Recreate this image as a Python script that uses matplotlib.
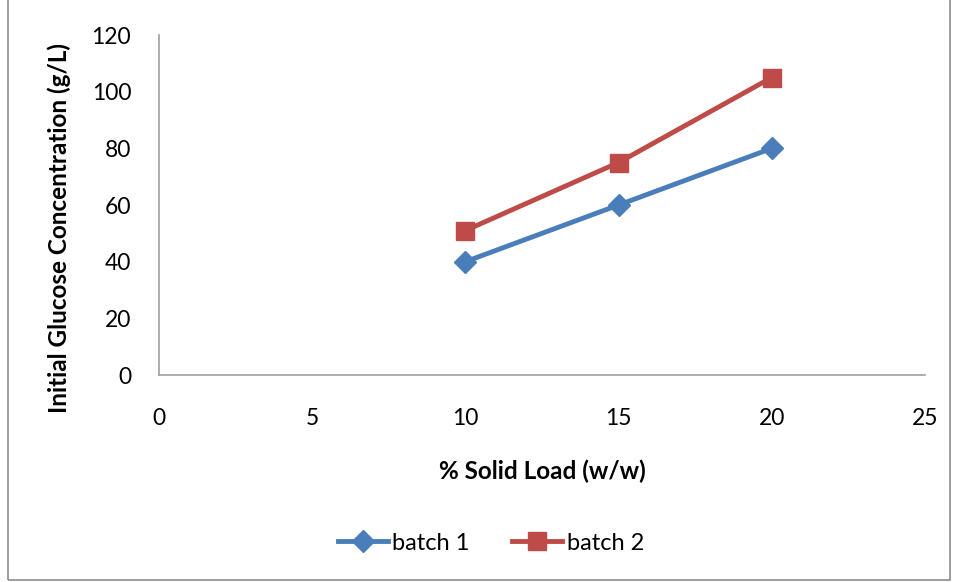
import matplotlib
matplotlib.use('Agg')
import matplotlib.pyplot as plt
from matplotlib.patches import Rectangle

# data
solid_load = [10, 15, 20]
batch1 = [40, 60, 80]
batch2 = [51, 75, 105]

plt.rcParams['font.family'] = ['Lato', 'DejaVu Sans']

fig = plt.figure(figsize=(9.6, 5.82), dpi=100)
ax = fig.add_axes([159/960, 1 - 375/582, (925 - 159)/960, (375 - 35)/582])

ax.plot(solid_load, batch1, color='#4A7EBB', lw=3.5, marker='D', ms=11.5,
        label='batch 1')
ax.plot(solid_load, batch2, color='#BE4B48', lw=3.5, marker='s', ms=13,
        label='batch 2')

ax.set_xlim(0, 25)
ax.set_ylim(0, 120)
ax.set_xticks(range(0, 26, 5))
ax.set_yticks(range(0, 121, 20))
ax.tick_params(length=0, labelsize=16.5)
ax.tick_params(axis='y', pad=20)
ax.tick_params(axis='x', pad=24)

for s in ['top', 'right']:
    ax.spines[s].set_visible(False)
for s in ['left', 'bottom']:
    ax.spines[s].set_color('#A0A0A0')
    ax.spines[s].set_linewidth(1.2)

ax.set_xlabel('% Solid Load (w/w)', fontsize=17.5, fontweight='bold', labelpad=22)
ax.set_ylabel('Initial Glucose Concentration (g/L)', fontsize=17.5,
              fontweight='bold')
# label sits a bit below the axes centre in the original
ax.yaxis.set_label_coords((59 - 159) / 766, (375 - 228) / 340)
ax.yaxis.label.set_va('center')

fig.legend(loc='center', bbox_to_anchor=(491/960, 1 - 543/582), ncol=2,
           frameon=False, fontsize=17, handlelength=2.1, columnspacing=1.8,
           handletextpad=0.2)

fig.patches.append(Rectangle((8/960, 2/582), (950 - 8)/960, 1.0,
                             transform=fig.transFigure, fill=False,
                             edgecolor='#8C8C8C', lw=1.2))

fig.savefig('out.png', dpi=100)
